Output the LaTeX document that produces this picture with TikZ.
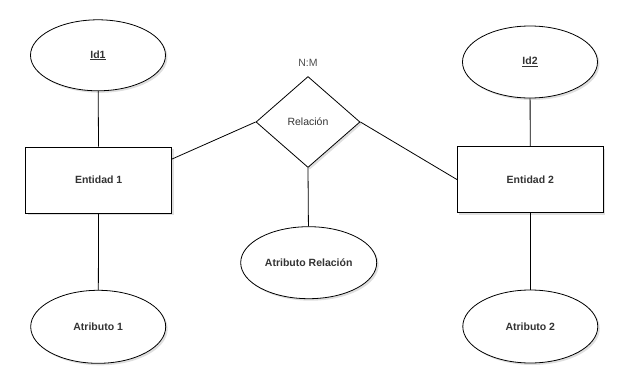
\documentclass[tikz,border=0pt]{standalone}
\usepackage{fontspec}
\setmainfont{Liberation Sans}
\usetikzlibrary{shapes.geometric,shadows}
\tikzset{
  base/.style={draw=black, line width=0.8pt, fill=white, text=black!80, inner sep=0pt,
    font=\fontsize{10.5}{12}\selectfont,
    drop shadow={opacity=0.25, shadow xshift=2pt, shadow yshift=-2pt}},
  entidad/.style={base, rectangle, minimum width=146pt, minimum height=66pt, font=\fontsize{10.5}{12}\selectfont\bfseries},
  atributo/.style={base, ellipse, minimum width=135pt, minimum height=72pt, font=\fontsize{10.5}{12}\selectfont\bfseries},
  relacion/.style={base, diamond, minimum width=104pt, minimum height=91pt},
  enlace/.style={draw=black, line width=0.8pt}
}
\begin{document}
\begin{tikzpicture}[x=1pt, y=-1pt]
        \useasboundingbox (0,0) rectangle (641,391);
        % Entities
            \node[entidad] (ent1) at (98.7,180) {Entidad 1};
            \node[entidad] (ent2) at (530.3,179.5) {Entidad 2};
        % Relationship
            \node[relacion] (rel) at (308,122) {Relación};
            \node[text=black!70, font=\fontsize{10.5}{12}\selectfont] (card) at (308,63) {N:M};
        % Attributes
            \node[atributo, minimum height=71pt] (id1) at (98,55.3) {\underline{Id1}};
            \node[atributo] (id2) at (530,62) {\underline{Id2}};
            \node[atributo, minimum width=136pt] (atrrel) at (308.7,262.7) {Atributo Relación};
            \node[atributo, minimum height=73pt] (atr1) at (98.2,326.8) {Atributo 1};
            \node[atributo, minimum height=73pt] (atr2) at (530.3,326.5) {Atributo 2};
        % Links
            \draw[enlace] (id1) -- (ent1);
            \draw[enlace] (ent1) -- (atr1);
            \draw[enlace] (id2) -- (ent2);
            \draw[enlace] (ent2) -- (atr2);
            \draw[enlace] (rel.west) -- ([yshift=21pt]ent1.east);
            \draw[enlace] (rel.east) -- (ent2.west);
            \draw[enlace] (rel.south) -- (atrrel);
        \end{tikzpicture}
\end{document}
